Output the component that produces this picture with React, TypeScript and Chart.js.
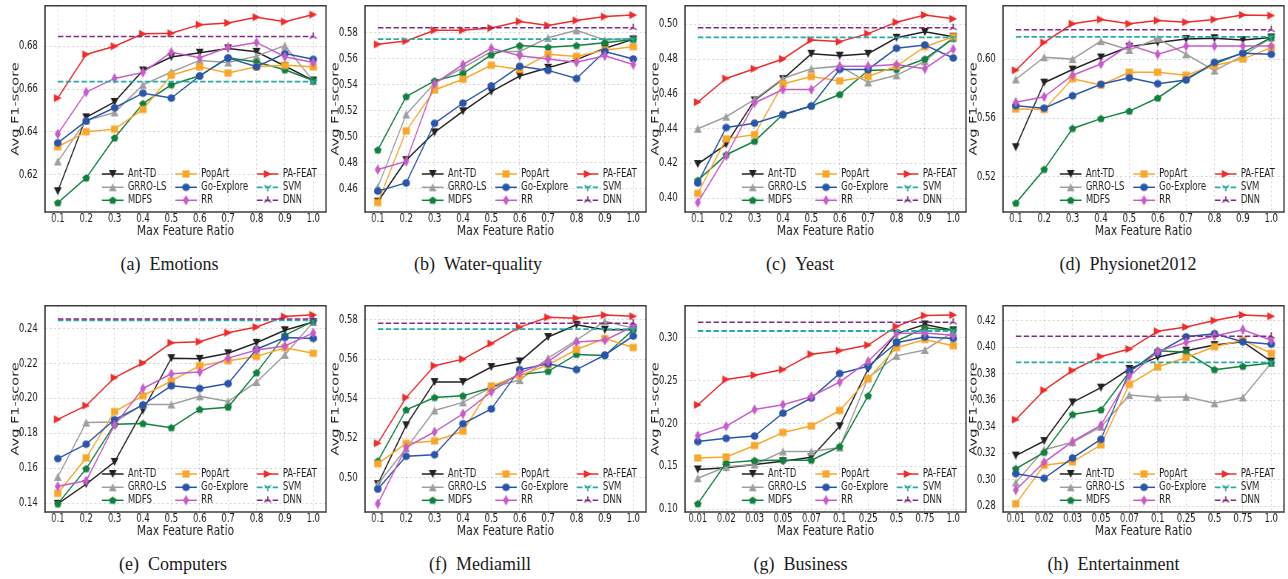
import React, { useEffect, useRef } from 'react';
import { Chart, registerables } from 'chart.js';

Chart.register(...registerables);

// ---------- data ----------
const ratioLabels = ['0.1', '0.2', '0.3', '0.4', '0.5', '0.6', '0.7', '0.8', '0.9', '1.0'];
const ratioLabelsFine = ['0.01', '0.02', '0.03', '0.05', '0.07', '0.1', '0.25', '0.5', '0.75', '1.0'];

const seriesNames = ['Ant-TD', 'GRRO-LS', 'MDFS', 'PopArt', 'Go-Explore', 'RR', 'PA-FEAT', 'SVM', 'DNN'];
const seriesColors = ['#222222', '#9e9e9e', '#12803f', '#f9a72b', '#2a55aa', '#c75bc7', '#ef2b2b', '#2aa9a9', '#7e2a84'];
const seriesShapes = ['v', '^', 'p', 's', 'o', 'd', '>', '1', '2'];

// (a) Emotions
const emotionsAntTD = [0.6123, 0.6468, 0.6540, 0.6687, 0.6750, 0.6770, 0.6790, 0.6774, 0.6708, 0.6640];
const emotionsGRRO = [0.6262, 0.6453, 0.6491, 0.6620, 0.6680, 0.6734, 0.6724, 0.6754, 0.6803, 0.6638];
const emotionsMDFS = [0.6069, 0.6185, 0.6372, 0.6532, 0.6620, 0.6662, 0.6746, 0.6727, 0.6690, 0.6640];
const emotionsPopArt = [0.6331, 0.6401, 0.6413, 0.6505, 0.6665, 0.6704, 0.6675, 0.6704, 0.6711, 0.6704];
const emotionsGoExplore = [0.6349, 0.6451, 0.6513, 0.6581, 0.6558, 0.6662, 0.6746, 0.6704, 0.6766, 0.6739];
const emotionsRR = [0.6390, 0.6586, 0.6650, 0.6678, 0.6772, 0.6746, 0.6795, 0.6818, 0.6751, 0.6724];
const emotionsPAFEAT = [0.6558, 0.6762, 0.6800, 0.6858, 0.6861, 0.6901, 0.6909, 0.6936, 0.6915, 0.6948];
const emotionsSVM = 0.6635;
const emotionsDNN = 0.6846;
const emotionsTicks = [0.62, 0.64, 0.66, 0.68];

// (b) Water-quality
const waterAntTD = [0.4499, 0.4819, 0.5033, 0.5196, 0.5347, 0.5468, 0.5531, 0.5594, 0.5682, 0.5750];
const waterGRRO = [0.4610, 0.5171, 0.5413, 0.5531, 0.5657, 0.5657, 0.5762, 0.5820, 0.5745, 0.5757];
const waterMDFS = [0.4897, 0.5309, 0.5430, 0.5486, 0.5631, 0.5702, 0.5689, 0.5702, 0.5725, 0.5750];
const waterPopArt = [0.4492, 0.5045, 0.5360, 0.5443, 0.5551, 0.5518, 0.5636, 0.5619, 0.5669, 0.5694];
const waterGoExplore = [0.4580, 0.4643, 0.5103, 0.5259, 0.5392, 0.5543, 0.5511, 0.5448, 0.5657, 0.5599];
const waterRR = [0.4746, 0.4809, 0.5410, 0.5556, 0.5682, 0.5624, 0.5599, 0.5574, 0.5624, 0.5556];
const waterPAFEAT = [0.5712, 0.5737, 0.5820, 0.5820, 0.5838, 0.5888, 0.5858, 0.5896, 0.5926, 0.5938];
const waterSVM = 0.5752;
const waterDNN = 0.5840;
const waterTicks = [0.46, 0.48, 0.50, 0.52, 0.54, 0.56, 0.58];

// (c) Yeast
const yeastAntTD = [0.4197, 0.4310, 0.4563, 0.4685, 0.4831, 0.4820, 0.4831, 0.4923, 0.4957, 0.4929];
const yeastGRRO = [0.4400, 0.4469, 0.4569, 0.4689, 0.4745, 0.4760, 0.4666, 0.4707, 0.4788, 0.4925];
const yeastMDFS = [0.4103, 0.4250, 0.4328, 0.4482, 0.4531, 0.4597, 0.4735, 0.4741, 0.4801, 0.4919];
const yeastPopArt = [0.4028, 0.4342, 0.4366, 0.4657, 0.4700, 0.4675, 0.4700, 0.4760, 0.4872, 0.4929];
const yeastGoExplore = [0.4088, 0.4407, 0.4432, 0.4482, 0.4531, 0.4741, 0.4741, 0.4863, 0.4882, 0.4807];
const yeastRR = [0.3976, 0.4244, 0.4548, 0.4625, 0.4625, 0.4760, 0.4760, 0.4769, 0.4745, 0.4857];
const yeastPAFEAT = [0.4553, 0.4689, 0.4745, 0.4801, 0.4910, 0.4901, 0.4947, 0.5013, 0.5054, 0.5032];
const yeastSVM = 0.4925;
const yeastDNN = 0.4981;
const yeastTicks = [0.40, 0.42, 0.44, 0.46, 0.48, 0.50];

// (d) Physionet2012
const physioAntTD = [0.5402, 0.5840, 0.5929, 0.6011, 0.6084, 0.6113, 0.6136, 0.6142, 0.6129, 0.6147];
const physioGRRO = [0.5862, 0.6013, 0.6000, 0.6122, 0.6062, 0.6140, 0.6033, 0.5922, 0.6022, 0.6147];
const physioMDFS = [0.5022, 0.5251, 0.5529, 0.5596, 0.5647, 0.5736, 0.5867, 0.5967, 0.6044, 0.6147];
const physioPopArt = [0.5662, 0.5658, 0.5867, 0.5824, 0.5911, 0.5911, 0.5891, 0.5956, 0.6000, 0.6078];
const physioGoExplore = [0.5684, 0.5667, 0.5751, 0.5829, 0.5873, 0.5833, 0.5858, 0.5978, 0.6040, 0.6033];
const physioRR = [0.5707, 0.5744, 0.5891, 0.5967, 0.6096, 0.6033, 0.6089, 0.6089, 0.6089, 0.6089];
const physioPAFEAT = [0.5924, 0.6113, 0.6240, 0.6269, 0.6240, 0.6262, 0.6251, 0.6269, 0.6300, 0.6296];
const physioSVM = 0.6151;
const physioDNN = 0.6200;
const physioTicks = [0.52, 0.56, 0.60];

// (e) Computers
const compAntTD = [0.1396, 0.1509, 0.1636, 0.1931, 0.2231, 0.2227, 0.2259, 0.2319, 0.2391, 0.2438];
const compGRRO = [0.1550, 0.1862, 0.1865, 0.1965, 0.1965, 0.2012, 0.1982, 0.2094, 0.2250, 0.2438];
const compMDFS = [0.1396, 0.1597, 0.1852, 0.1856, 0.1832, 0.1937, 0.1950, 0.2147, 0.2362, 0.2443];
const compPopArt = [0.1456, 0.1659, 0.1925, 0.2015, 0.2100, 0.2188, 0.2216, 0.2241, 0.2291, 0.2259];
const compGoExplore = [0.1655, 0.1738, 0.1878, 0.1963, 0.2072, 0.2057, 0.2085, 0.2282, 0.2349, 0.2344];
const compRR = [0.1496, 0.1528, 0.1847, 0.2057, 0.2141, 0.2152, 0.2231, 0.2278, 0.2301, 0.2376];
const compPAFEAT = [0.1880, 0.1959, 0.2119, 0.2203, 0.2319, 0.2325, 0.2377, 0.2409, 0.2469, 0.2479];
const compSVM = 0.2447;
const compDNN = 0.2456;
const compTicks = [0.14, 0.16, 0.18, 0.20, 0.22, 0.24];

// (f) Mediamill
const mediaAntTD = [0.4967, 0.5265, 0.5484, 0.5484, 0.5560, 0.5588, 0.5712, 0.5774, 0.5749, 0.5749];
const mediaGRRO = [0.4967, 0.5149, 0.5340, 0.5381, 0.5456, 0.5494, 0.5605, 0.5696, 0.5792, 0.5757];
const mediaMDFS = [0.5083, 0.5343, 0.5406, 0.5414, 0.5456, 0.5522, 0.5538, 0.5624, 0.5618, 0.5749];
const mediaPopArt = [0.5070, 0.5174, 0.5186, 0.5235, 0.5464, 0.5517, 0.5571, 0.5649, 0.5704, 0.5659];
const mediaGoExplore = [0.4942, 0.5108, 0.5116, 0.5273, 0.5348, 0.5547, 0.5576, 0.5547, 0.5621, 0.5717];
const mediaRR = [0.4868, 0.5153, 0.5232, 0.5323, 0.5434, 0.5530, 0.5588, 0.5687, 0.5696, 0.5765];
const mediaPAFEAT = [0.5174, 0.5406, 0.5567, 0.5600, 0.5679, 0.5762, 0.5812, 0.5807, 0.5823, 0.5817];
const mediaSVM = 0.5752;
const mediaDNN = 0.5782;
const mediaTicks = [0.50, 0.52, 0.54, 0.56, 0.58];

// (g) Business
const bizAntTD = [0.1466, 0.1485, 0.1523, 0.1561, 0.1607, 0.1969, 0.2637, 0.3050, 0.3156, 0.3088];
const bizGRRO = [0.1363, 0.1496, 0.1523, 0.1675, 0.1675, 0.1721, 0.2534, 0.2790, 0.2859, 0.3069];
const bizMDFS = [0.1065, 0.1542, 0.1569, 0.1572, 0.1572, 0.1733, 0.2324, 0.2962, 0.3115, 0.3088];
const bizPopArt = [0.1599, 0.1611, 0.1744, 0.1897, 0.1973, 0.2153, 0.2523, 0.2885, 0.2981, 0.2908];
const bizGoExplore = [0.1790, 0.1828, 0.1855, 0.2122, 0.2298, 0.2584, 0.2668, 0.2943, 0.3011, 0.2992];
const bizRR = [0.1859, 0.1969, 0.2164, 0.2221, 0.2317, 0.2485, 0.2725, 0.3050, 0.3057, 0.3031];
const bizPAFEAT = [0.2218, 0.2515, 0.2565, 0.2630, 0.2809, 0.2851, 0.2916, 0.3134, 0.3260, 0.3267];
const bizSVM = 0.3080;
const bizDNN = 0.3183;
const bizTicks = [0.10, 0.15, 0.20, 0.25, 0.30];

// (h) Entertainment
const entAntTD = [0.3182, 0.3292, 0.3583, 0.3694, 0.3835, 0.3924, 0.3973, 0.4015, 0.4040, 0.3892];
const entGRRO = [0.2979, 0.3226, 0.3283, 0.3399, 0.3638, 0.3620, 0.3625, 0.3576, 0.3620, 0.3880];
const entMDFS = [0.3083, 0.3206, 0.3492, 0.3527, 0.3813, 0.3973, 0.3961, 0.3830, 0.3855, 0.3880];
const entPopArt = [0.2819, 0.3110, 0.3135, 0.3263, 0.3719, 0.3850, 0.3921, 0.4003, 0.4052, 0.3953];
const entGoExplore = [0.3046, 0.3011, 0.3164, 0.3305, 0.3818, 0.3958, 0.4077, 0.4101, 0.4040, 0.4022];
const entRR = [0.2923, 0.3132, 0.3288, 0.3411, 0.3781, 0.3966, 0.4035, 0.4084, 0.4131, 0.4052];
const entPAFEAT = [0.3453, 0.3675, 0.3823, 0.3929, 0.3985, 0.4119, 0.4151, 0.4200, 0.4242, 0.4232];
const entSVM = 0.3884;
const entDNN = 0.4082;
const entTicks = [0.28, 0.30, 0.32, 0.34, 0.36, 0.38, 0.40, 0.42];

// ---------- layout ----------
const K = 0.74; // horizontal compression of the figure
const CANVAS_W = 460; // virtual px
const CANVAS_H = 250;
const PLOT_W = 281; // actual px
const AXIS_W = 45; // actual px between container left and plot left
const plotLefts = [45.4, 365, 684.7, 1003];
const plotTops = [2, 302];
const captionCenters = [[169.5, 478, 800, 1128], [173, 480, 800.5, 1113.5]];
const FONT = '"DejaVu Sans", sans-serif';
const TEXT = '#1e1e1e';
const FRAME = '#3c3c3c';
const TICK_SIZE = 11.5;
const TITLE_SIZE = 14.5;

type PanelSpec = {
  tag: string;
  name: string;
  labels: string[];
  series: number[][];
  svm: number;
  dnn: number;
  yMin: number;
  yMax: number;
  yTicks: number[];
  col: number;
  row: number;
};

const panels: PanelSpec[] = [
  { tag: '(a)', name: 'Emotions', labels: ratioLabels, series: [emotionsAntTD, emotionsGRRO, emotionsMDFS, emotionsPopArt, emotionsGoExplore, emotionsRR, emotionsPAFEAT], svm: emotionsSVM, dnn: emotionsDNN, yMin: 0.6026, yMax: 0.6989, yTicks: emotionsTicks, col: 0, row: 0 },
  { tag: '(b)', name: 'Water-quality', labels: ratioLabels, series: [waterAntTD, waterGRRO, waterMDFS, waterPopArt, waterGoExplore, waterRR, waterPAFEAT], svm: waterSVM, dnn: waterDNN, yMin: 0.4419, yMax: 0.6009, yTicks: waterTicks, col: 1, row: 0 },
  { tag: '(c)', name: 'Yeast', labels: ratioLabels, series: [yeastAntTD, yeastGRRO, yeastMDFS, yeastPopArt, yeastGoExplore, yeastRR, yeastPAFEAT], svm: yeastSVM, dnn: yeastDNN, yMin: 0.3921, yMax: 0.5107, yTicks: yeastTicks, col: 2, row: 0 },
  { tag: '(d)', name: 'Physionet2012', labels: ratioLabels, series: [physioAntTD, physioGRRO, physioMDFS, physioPopArt, physioGoExplore, physioRR, physioPAFEAT], svm: physioSVM, dnn: physioDNN, yMin: 0.4962, yMax: 0.6362, yTicks: physioTicks, col: 3, row: 0 },
  { tag: '(e)', name: 'Computers', labels: ratioLabels, series: [compAntTD, compGRRO, compMDFS, compPopArt, compGoExplore, compRR, compPAFEAT], svm: compSVM, dnn: compDNN, yMin: 0.1349, yMax: 0.2531, yTicks: compTicks, col: 0, row: 1 },
  { tag: '(f)', name: 'Mediamill', labels: ratioLabels, series: [mediaAntTD, mediaGRRO, mediaMDFS, mediaPopArt, mediaGoExplore, mediaRR, mediaPAFEAT], svm: mediaSVM, dnn: mediaDNN, yMin: 0.4826, yMax: 0.5870, yTicks: mediaTicks, col: 1, row: 1 },
  { tag: '(g)', name: 'Business', labels: ratioLabelsFine, series: [bizAntTD, bizGRRO, bizMDFS, bizPopArt, bizGoExplore, bizRR, bizPAFEAT], svm: bizSVM, dnn: bizDNN, yMin: 0.0969, yMax: 0.3374, yTicks: bizTicks, col: 2, row: 1 },
  { tag: '(h)', name: 'Entertainment', labels: ratioLabelsFine, series: [entAntTD, entGRRO, entMDFS, entPopArt, entGoExplore, entRR, entPAFEAT], svm: entSVM, dnn: entDNN, yMin: 0.2757, yMax: 0.4311, yTicks: entTicks, col: 3, row: 1 },
];

// ---------- markers (drawn un-compressed) ----------
function makeMarker(shape: string, color: string): HTMLCanvasElement {
  const box = 12;
  const c = document.createElement('canvas');
  c.width = Math.round(box / K);
  c.height = box;
  const g = c.getContext('2d') as CanvasRenderingContext2D;
  g.translate(c.width / 2, c.height / 2);
  g.scale(1 / K, 1);
  g.fillStyle = color;
  g.strokeStyle = color;
  const r = 3.9;
  g.beginPath();
  if (shape === 'v') {
    g.moveTo(-r, -r); g.lineTo(r, -r); g.lineTo(0, r); g.closePath(); g.fill();
  } else if (shape === '^') {
    g.moveTo(0, -r); g.lineTo(r, r); g.lineTo(-r, r); g.closePath(); g.fill();
  } else if (shape === '>') {
    g.moveTo(r, 0); g.lineTo(-r, -r); g.lineTo(-r, r); g.closePath(); g.fill();
  } else if (shape === 'p') {
    for (let i = 0; i < 5; i++) {
      const a = (-90 + 72 * i) * Math.PI / 180;
      const px = Math.cos(a) * 4, py = Math.sin(a) * 4 + 0.3;
      if (i === 0) g.moveTo(px, py); else g.lineTo(px, py);
    }
    g.closePath(); g.fill();
  } else if (shape === 's') {
    g.rect(-3.6, -3.6, 7.2, 7.2); g.fill();
  } else if (shape === 'o') {
    g.arc(0, 0, 3.8, 0, Math.PI * 2); g.fill();
  } else if (shape === 'd') {
    g.moveTo(0, -5.2); g.lineTo(3, 0); g.lineTo(0, 5.2); g.lineTo(-3, 0); g.closePath(); g.fill();
  } else if (shape === '1' || shape === '2') {
    const s = shape === '1' ? 1 : -1;
    g.lineWidth = 1.3;
    g.moveTo(0, 0); g.lineTo(0, 4 * s);
    g.moveTo(0, 0); g.lineTo(-3.5, -2 * s);
    g.moveTo(0, 0); g.lineTo(3.5, -2 * s);
    g.stroke();
  }
  return c;
}

// ---------- decoration plugin: frame + legend ----------
const legendCols = [-224.1, -150.8, -69.1]; // actual px from plot right
const legendRows = [-38, -24.7, -11.7]; // px from plot bottom
const HANDLE = 21.6;
const TEXT_GAP = 25.9;

const decorPlugin = {
  id: 'decor',
  afterDatasetsDraw(chart: any) {
    const { ctx, chartArea: a } = chart;
    ctx.save();
    ctx.strokeStyle = FRAME;
    ctx.lineWidth = 1.5;
    ctx.beginPath();
    ctx.moveTo(a.left, a.top); ctx.lineTo(a.right, a.top);
    ctx.moveTo(a.left, a.bottom); ctx.lineTo(a.right, a.bottom);
    ctx.stroke();
    ctx.lineWidth = 1.5 / K;
    ctx.beginPath();
    ctx.moveTo(a.left, a.top - 0.75); ctx.lineTo(a.left, a.bottom + 0.75);
    ctx.moveTo(a.right, a.top - 0.75); ctx.lineTo(a.right, a.bottom + 0.75);
    ctx.stroke();
    ctx.restore();
  },
  afterDraw(chart: any, _args: any, opts: any) {
    const { ctx, chartArea: a } = chart;
    const markers: HTMLCanvasElement[] = opts.markers;
    chart.data.datasets.forEach((ds: any, i: number) => {
      const col = Math.floor(i / 3);
      const row = i % 3;
      const x0 = a.right + legendCols[col] / K;
      const y = a.bottom + legendRows[row];
      ctx.save();
      ctx.strokeStyle = ds.borderColor;
      ctx.lineWidth = ds.borderWidth;
      ctx.setLineDash(ds.borderDash || []);
      ctx.beginPath();
      ctx.moveTo(x0, y);
      ctx.lineTo(x0 + HANDLE / K, y);
      ctx.stroke();
      ctx.setLineDash([]);
      const m = markers[i];
      ctx.drawImage(m, x0 + HANDLE / K / 2 - m.width / 2, y - m.height / 2);
      ctx.fillStyle = TEXT;
      ctx.font = `${TICK_SIZE}px ${FONT}`;
      ctx.textBaseline = 'middle';
      ctx.textAlign = 'left';
      ctx.fillText(ds.label, x0 + TEXT_GAP / K, y);
      ctx.restore();
    });
  },
};

function Panel({ p }: { p: PanelSpec }) {
  const ref = useRef<HTMLCanvasElement>(null);
  useEffect(() => {
    const markers = seriesShapes.map((s, i) => makeMarker(s, seriesColors[i]));
    const n = p.labels.length;
    const datasets: any[] = p.series.map((vals, i) => ({
      label: seriesNames[i],
      data: vals.map((y, j) => ({ x: j, y })),
      borderColor: seriesColors[i],
      backgroundColor: seriesColors[i],
      borderWidth: 1.5,
      pointStyle: markers[i],
      pointRadius: 4,
      pointHoverRadius: 4,
      tension: 0,
      order: 20 - i,
    }));
    [p.svm, p.dnn].forEach((b, bi) => {
      const i = 7 + bi;
      datasets.push({
        label: seriesNames[i],
        data: [{ x: 0, y: b }, { x: n - 1, y: b }],
        borderColor: seriesColors[i],
        backgroundColor: seriesColors[i],
        borderWidth: bi === 0 ? 1.8 : 1.5,
        borderDash: [5.5 / K, 2.4 / K],
        pointStyle: markers[i],
        pointRadius: [0, 4],
        pointHoverRadius: [0, 4],
        tension: 0,
        order: 20 - i,
      });
    });
    const yAxisW = AXIS_W / K;
    const padRight = CANVAS_W - yAxisW - PLOT_W / K;
    const chart = new Chart(ref.current as HTMLCanvasElement, {
      type: 'line',
      data: { datasets },
      plugins: [decorPlugin as any],
      options: {
        animation: false,
        responsive: false,
        maintainAspectRatio: false,
        devicePixelRatio: 1,
        events: [],
        layout: { padding: { left: 0, right: padRight, top: 2, bottom: 0 } },
        plugins: {
          legend: { display: false },
          tooltip: { enabled: false },
          decor: { markers },
        } as any,
        scales: {
          x: {
            type: 'linear',
            min: -0.45,
            max: n - 1 + 0.45,
            afterBuildTicks: (s: any) => { s.ticks = p.labels.map((_, i) => ({ value: i })); },
            afterFit: (s: any) => { s.height = 38; s.paddingLeft = 0; s.paddingRight = 0; },
            ticks: {
              callback: (v: any) => p.labels[Math.round(Number(v))] ?? '',
              autoSkip: false,
              maxRotation: 0,
              minRotation: 0,
              padding: 0.5,
              color: TEXT,
              font: { family: FONT, size: TICK_SIZE },
            },
            grid: { color: 'rgba(0,0,0,0.16)', lineWidth: 1, drawTicks: false },
            border: { display: false, dash: [2, 2.5] },
            title: {
              display: true,
              text: 'Max Feature Ratio',
              color: TEXT,
              font: { family: FONT, size: TITLE_SIZE },
              padding: { top: 0, bottom: 10 },
            },
          },
          y: {
            type: 'linear',
            min: p.yMin,
            max: p.yMax,
            afterBuildTicks: (s: any) => { s.ticks = p.yTicks.map((v) => ({ value: v })); },
            afterFit: (s: any) => { s.width = yAxisW; s.paddingTop = 0; s.paddingBottom = 0; },
            ticks: {
              callback: (v: any) => Number(v).toFixed(2),
              padding: 9.8,
              color: TEXT,
              font: { family: FONT, size: TICK_SIZE },
            },
            grid: { color: 'rgba(0,0,0,0.16)', lineWidth: 1, drawTicks: false },
            border: { display: false, dash: [2 / K, 2.5 / K] },
            title: {
              display: true,
              text: 'Avg F1-score',
              color: TEXT,
              font: { family: FONT, size: TITLE_SIZE },
              padding: { top: 12.3, bottom: 0 },
            },
          },
        } as any,
      },
    } as any);
    return () => chart.destroy();
  }, [p]);

  const left = plotLefts[p.col] - AXIS_W;
  const top = plotTops[p.row] - 2;
  return (
    <div style={{ position: 'absolute', left, top, width: CANVAS_W * K, height: CANVAS_H }}>
      <div style={{ width: CANVAS_W, height: CANVAS_H, transform: `scaleX(${K})`, transformOrigin: '0 0' }}>
        <canvas ref={ref} width={CANVAS_W} height={CANVAS_H} style={{ display: 'block', width: CANVAS_W, height: CANVAS_H }} />
      </div>
    </div>
  );
}

function Caption({ p }: { p: PanelSpec }) {
  const cx = captionCenters[p.row][p.col];
  const top = plotTops[p.row] - 2 + 254.6;
  return (
    <div
      style={{
        position: 'absolute',
        left: cx - 150,
        top,
        width: 300,
        textAlign: 'center',
        fontFamily: '"Liberation Serif", "DejaVu Serif", serif',
        fontSize: 18,
        lineHeight: '18px',
        color: '#1a1a1a',
        whiteSpace: 'nowrap',
      }}
    >
      <span>{p.tag}</span>
      <span style={{ marginLeft: 9 }}>{p.name}</span>
    </div>
  );
}

export default function App() {
  return (
    <div style={{ position: 'fixed', left: 0, top: 0, width: 1288, height: 579, background: '#ffffff', overflow: 'hidden' }}>
      {panels.map((p) => (
        <Panel key={p.tag} p={p} />
      ))}
      {panels.map((p) => (
        <Caption key={'c' + p.tag} p={p} />
      ))}
    </div>
  );
}
